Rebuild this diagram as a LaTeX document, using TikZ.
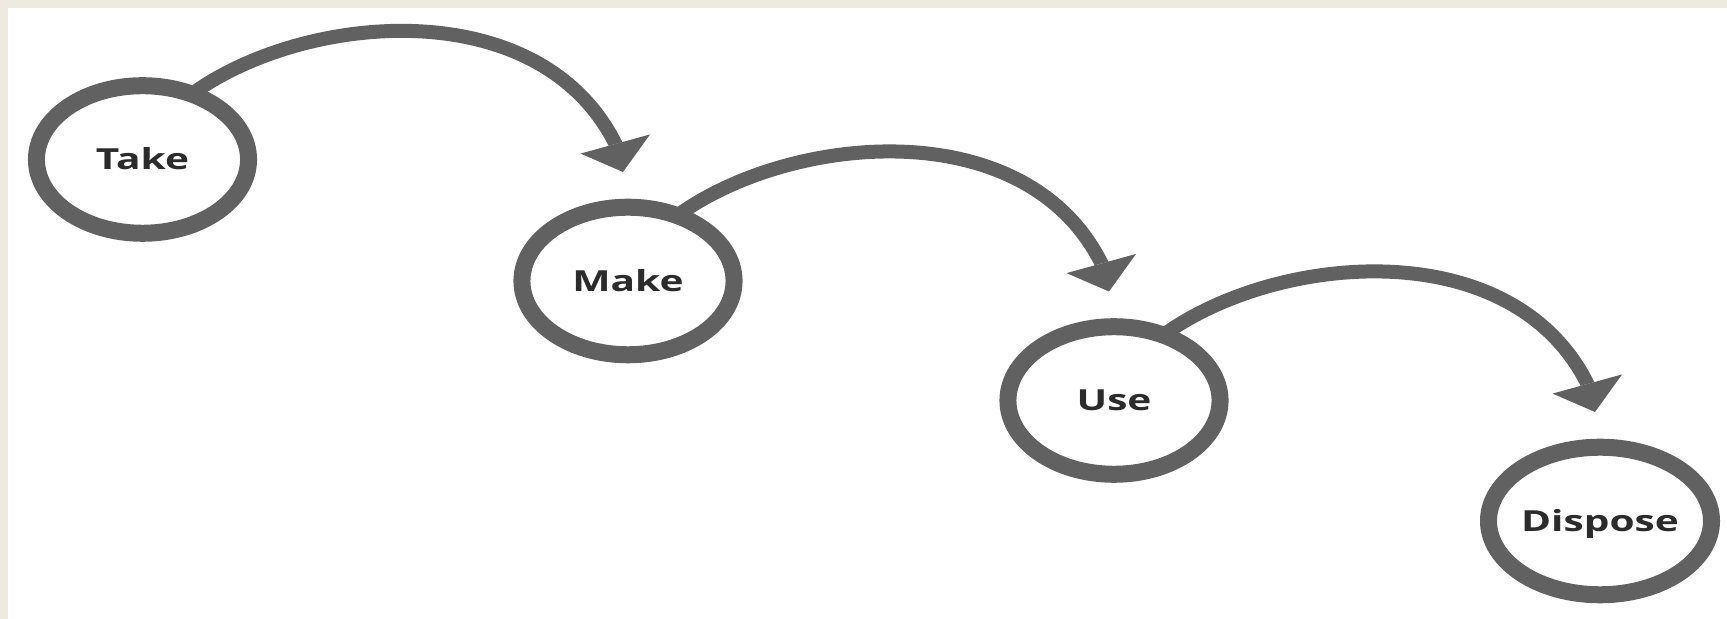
\documentclass[tikz,border=0pt]{standalone}
\usepackage{fontspec}
\setmainfont{Open Sans}
\newfontfamily\stagefont{Open Sans}[FakeStretch=1.4]
\usetikzlibrary{arrows.meta,shapes.geometric,calc}
\pgfdeclarelayer{bg}
\pgfdeclarelayer{arrowlayer}
\pgfsetlayers{bg,arrowlayer,main}
\definecolor{ringgray}{HTML}{616161}
\definecolor{paper}{HTML}{EDEAE0}
\definecolor{ink}{HTML}{2B2B2B}
\begin{document}
\begin{tikzpicture}[x=0.01cm,y=-0.01cm,
  stage/.style={ellipse, draw=ringgray, line width=0.17cm, fill=white,
    minimum width=2.12cm, minimum height=1.475cm, inner sep=0pt, outer sep=0pt,
    text=ink, font=\stagefont\bfseries\fontsize{8.25}{10}\selectfont,
    text height=5.9pt, text depth=0pt},
  flow/.style={draw=ringgray, line width=0.14cm,
    -{Triangle[length=0.29cm,width=0.72cm,line width=0pt]}}]
\useasboundingbox (0,0) rectangle (1727,619);
\begin{pgfonlayer}{bg}
  \fill[paper] (0,0) rectangle (1727,619);
  \fill[white] (8,8) rectangle (1727,619);
\end{pgfonlayer}
\node[stage] (take) at (142.5,159.5) {Take};
\node[stage] (make) at (628,281) {Make};
\node[stage] (use) at (1114,400.5) {Use};
\node[stage] (dispose) at (1600,521) {Dispose};
\begin{pgfonlayer}{arrowlayer}
  \draw[flow] (take.53) .. controls +(113,-82) and +(-76.5,-151) .. ($(make.center)+(-13,-138)$) -- ($(make.center)+(-5,-109)$);
  \draw[flow] (make.53) .. controls +(113,-82) and +(-76.5,-151) .. ($(use.center)+(-13,-138)$) -- ($(use.center)+(-5,-109)$);
  \draw[flow] (use.53) .. controls +(113,-82) and +(-76.5,-151) .. ($(dispose.center)+(-13,-138)$) -- ($(dispose.center)+(-5,-109)$);
\end{pgfonlayer}
\end{tikzpicture}
\end{document}
